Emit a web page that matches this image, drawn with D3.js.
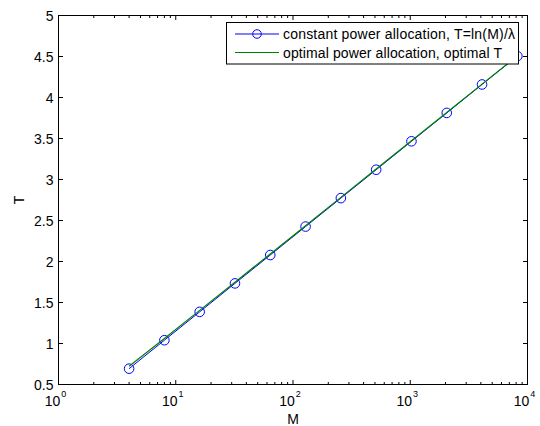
<!DOCTYPE html>
<html><head><meta charset="utf-8">
<script src="https://cdn.jsdelivr.net/npm/d3@7"></script>
<style>body{margin:0;background:#fff;} svg{display:block;} text{font-family:"Liberation Sans",Arial,sans-serif;fill:#000;}</style>
</head><body>
<svg id="c" width="540" height="426"></svg>
<script>
const M = [4, 8, 16, 32, 64, 128, 256, 512, 1024, 2048, 4096, 8192];
const Tconst = [0.693, 1.040, 1.386, 1.733, 2.079, 2.426, 2.773, 3.119, 3.466, 3.812, 4.159, 4.505];
const Topt = [0.722, 1.062, 1.404, 1.748, 2.092, 2.437, 2.782, 3.127, 3.472, 3.817, 4.163, 4.508];
const xTickExp = [0, 1, 2, 3, 4];
const yTicks = [0.5, 1, 1.5, 2, 2.5, 3, 3.5, 4, 4.5, 5];
const seriesNames = ["constant power allocation, T=ln(M)/λ", "optimal power allocation, optimal T"];

const L = 58.5, R = 527.5, Tp = 15.5, B = 384.5;
const svg = d3.select("#c");
const x = d3.scaleLog().domain([1, 1e4]).range([L, R]);
const y = d3.scaleLinear().domain([0.5, 5]).range([B, Tp]);

const g = svg.append("g");
const minor = [];
for (let e = 0; e < 4; e++) for (let k = 2; k <= 9; k++) minor.push(k * Math.pow(10, e));
const tl = 4.5, tlm = 2.5;
minor.forEach(v => {
  g.append("line").attr("x1", x(v)).attr("x2", x(v)).attr("y1", B).attr("y2", B - tlm).attr("stroke", "#000");
  g.append("line").attr("x1", x(v)).attr("x2", x(v)).attr("y1", Tp).attr("y2", Tp + tlm).attr("stroke", "#000");
});
xTickExp.forEach(e => {
  const v = Math.pow(10, e);
  g.append("line").attr("x1", x(v)).attr("x2", x(v)).attr("y1", B).attr("y2", B - tl).attr("stroke", "#000");
  g.append("line").attr("x1", x(v)).attr("x2", x(v)).attr("y1", Tp).attr("y2", Tp + tl).attr("stroke", "#000");
  const t = g.append("text").attr("x", x(v) - 3).attr("y", 406).attr("text-anchor", "middle").attr("font-size", 14);
  t.append("tspan").text("10");
  t.append("tspan").attr("font-size", 9).attr("dy", -9).attr("dx", 1).text(e);
});
yTicks.forEach(v => {
  g.append("line").attr("x1", L).attr("x2", L + tl).attr("y1", y(v)).attr("y2", y(v)).attr("stroke", "#000");
  g.append("line").attr("x1", R).attr("x2", R - tl).attr("y1", y(v)).attr("y2", y(v)).attr("stroke", "#000");
  g.append("text").attr("x", L - 5).attr("y", y(v) + 5.5).attr("text-anchor", "end").attr("font-size", 14).text(v);
});
g.append("rect").attr("x", L).attr("y", Tp).attr("width", R - L).attr("height", B - Tp).attr("fill", "none").attr("stroke", "#000");

const line = d3.line().x(d => x(d[0])).y(d => y(d[1]));
const dConst = M.map((m, i) => [m, Tconst[i]]);
const dOpt = M.map((m, i) => [m, Topt[i]]);
g.append("path").attr("d", line(dConst)).attr("fill", "none").attr("stroke", "#0000ff").attr("stroke-width", 1);
g.selectAll("circle.m").data(dConst).enter().append("circle").attr("cx", d => x(d[0])).attr("cy", d => y(d[1])).attr("r", 4.8).attr("fill", "none").attr("stroke", "#0000ff");
g.append("path").attr("d", line(dOpt)).attr("fill", "none").attr("stroke", "#008000").attr("stroke-width", 1.2);

const lg = svg.append("g");
lg.append("rect").attr("x", 226.5).attr("y", 22.5).attr("width", 292).attr("height", 41.5).attr("fill", "#fff").attr("stroke", "#000");
lg.append("line").attr("x1", 235).attr("x2", 279).attr("y1", 34).attr("y2", 34).attr("stroke", "#0000ff");
lg.append("circle").attr("cx", 257).attr("cy", 34).attr("r", 4.3).attr("fill", "none").attr("stroke", "#0000ff");
lg.append("line").attr("x1", 235).attr("x2", 279).attr("y1", 52.5).attr("y2", 52.5).attr("stroke", "#008000").attr("stroke-width", 1.2);
lg.append("text").attr("x", 283).attr("y", 39).attr("font-size", 14).attr("textLength", 232).attr("lengthAdjust", "spacing").text(seriesNames[0]);
lg.append("text").attr("x", 283).attr("y", 57.5).attr("font-size", 14).attr("textLength", 219).attr("lengthAdjust", "spacing").text(seriesNames[1]);

svg.append("text").attr("x", 293).attr("y", 424).attr("text-anchor", "middle").attr("font-size", 14).text("M");
svg.append("text").attr("transform", "translate(24," + ((Tp + B) / 2) + ") rotate(-90)").attr("text-anchor", "middle").attr("font-size", 14).text("T");
</script>
</body></html>
